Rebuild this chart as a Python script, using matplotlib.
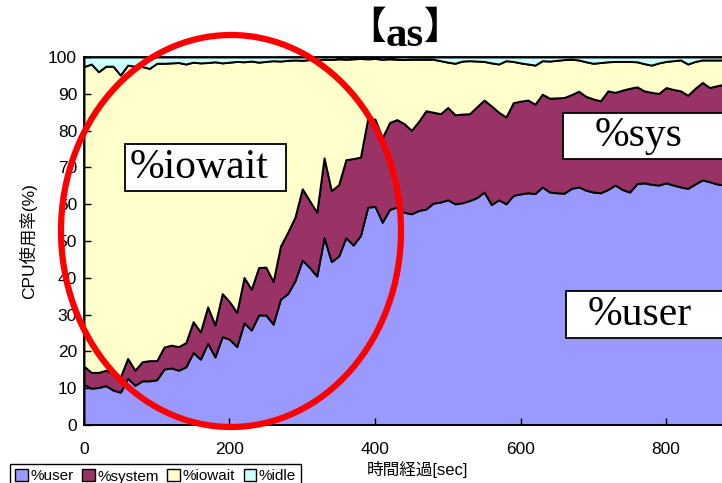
import matplotlib
matplotlib.use('Agg')
import matplotlib.pyplot as plt
from matplotlib.patches import Ellipse, Rectangle, Patch

plt.rcParams['font.family'] = ['Liberation Sans', 'Noto Sans CJK JP']

W, H = 722, 483

# time axis [sec]
t = list(range(0, 890, 10))

user = [11.0, 10.0, 10.2, 10.7, 9.5, 8.9, 12.7, 10.8, 12.0, 12.0,
        12.3, 15.2, 15.5, 14.9, 15.8, 19.7, 17.9, 22.2, 18.5, 24.0,
        23.3, 21.3, 27.8, 25.8, 29.9, 29.9, 27.4, 34.2, 35.7, 39.2,
        44.8, 42.8, 40.5, 50.9, 44.4, 45.9, 50.9, 48.9, 51.5, 59.2,
        59.4, 55.1, 58.6, 59.2, 57.8, 57.4, 58.3, 58.7, 60.3, 60.6,
        61.2, 60.1, 60.4, 61.0, 61.8, 63.3, 59.9, 61.2, 60.1, 62.4,
        62.8, 63.1, 62.9, 64.7, 63.3, 63.1, 63.0, 64.3, 64.7, 63.8,
        63.3, 63.1, 64.0, 65.2, 64.0, 63.3, 65.6, 65.8, 65.4, 65.2,
        65.8, 65.2, 64.7, 64.3, 65.5, 66.6, 66.1, 65.5, 65.2]

system = [5.0, 4.3, 4.1, 4.2, 4.5, 4.2, 5.4, 4.1, 5.2, 5.5,
          5.2, 6.0, 6.2, 6.4, 6.6, 8.4, 7.4, 9.9, 8.7, 11.7,
          10.2, 9.3, 12.3, 11.1, 12.9, 13.0, 11.6, 14.4, 16.7, 17.3,
          19.4, 18.2, 17.3, 21.7, 19.3, 19.4, 21.2, 23.5, 21.3, 24.1,
          23.7, 23.0, 23.6, 23.8, 24.1, 22.7, 24.2, 26.7, 24.7, 24.0,
          25.1, 24.2, 24.1, 23.6, 24.7, 25.0, 26.8, 23.8, 23.6, 25.2,
          25.2, 25.2, 24.3, 25.2, 25.5, 25.8, 26.0, 25.5, 26.0, 25.5,
          25.3, 25.0, 26.8, 25.2, 27.0, 28.2, 26.3, 25.0, 25.0, 24.9,
          25.9, 26.0, 26.1, 25.3, 26.0, 26.5, 25.6, 26.7, 27.4]

iowait = [81.4, 83.8, 81.7, 82.6, 83.5, 82.0, 79.7, 82.6, 80.2, 79.4,
          80.8, 77.1, 76.7, 77.2, 75.7, 70.5, 73.1, 66.4, 71.5, 62.7,
          65.1, 68.2, 58.6, 62.0, 55.8, 55.9, 60.0, 50.3, 46.7, 42.7,
          34.9, 38.3, 41.4, 26.8, 35.6, 34.2, 27.3, 27.1, 26.8, 16.2,
          16.5, 21.3, 17.3, 16.4, 17.4, 19.3, 16.9, 14.0, 14.4, 14.4,
          12.3, 14.0, 14.4, 14.4, 12.4, 10.5, 11.7, 13.1, 15.3, 11.2,
          10.4, 9.8, 10.6, 9.1, 10.1, 10.2, 10.3, 9.6, 8.5, 9.4,
          9.7, 10.4, 7.9, 8.4, 7.8, 7.3, 6.8, 7.4, 7.4, 8.3,
          7.1, 7.8, 8.4, 8.5, 7.3, 6.1, 7.5, 7.0, 6.6]

idle = [2.6, 1.9, 4.0, 2.5, 2.5, 4.9, 2.2, 2.5, 2.6, 3.1,
        1.7, 1.7, 1.6, 1.5, 1.9, 1.4, 1.6, 1.5, 1.3, 1.6,
        1.4, 1.2, 1.3, 1.1, 1.4, 1.2, 1.0, 1.1, 0.9, 0.8,
        0.9, 0.7, 0.8, 0.6, 0.7, 0.5, 0.6, 0.5, 0.4, 0.5,
        0.4, 0.6, 0.5, 0.6, 0.7, 0.6, 0.6, 0.6, 0.6, 1.0,
        1.4, 1.7, 1.1, 1.0, 1.1, 1.2, 1.6, 1.9, 1.0, 1.2,
        1.6, 1.9, 2.2, 1.0, 1.1, 0.9, 0.7, 0.6, 0.8, 1.3,
        1.7, 1.5, 1.3, 1.2, 1.2, 1.2, 1.3, 1.8, 2.2, 1.6,
        1.2, 1.0, 0.8, 1.9, 1.2, 0.8, 0.8, 0.8, 0.8]

labels = ['%user', '%system', '%iowait', '%idle']
colors = ['#9999FF', '#993366', '#FFFFCC', '#CCFFFF']


def fx(x):
    return x / W


def fy(y):
    return 1 - y / H


fig = plt.figure(figsize=(W / 100, H / 100), dpi=100)
# plot area is wider than the picture, the right side is cut off
ax = fig.add_axes([fx(84), fy(425), 880 * 0.7275 / W, (425 - 57) / H])
ax.stackplot(t, user, system, iowait, idle, colors=colors,
             edgecolor='black', linewidth=1.4)
ax.set_xlim(0, 880)
ax.set_ylim(0, 100)
ax.set_xticks([0, 200, 400, 600, 800])
ax.set_yticks(range(0, 101, 10))
ax.tick_params(direction='in', length=5, width=1, labelsize=12.5)
ax.tick_params(axis='x', pad=12)
ax.tick_params(axis='y', pad=5)
for s in ax.spines.values():
    s.set_linewidth(1.3)

fig.text(fx(417), fy(470), '時間経過[sec]', ha='center', va='center', fontsize=12)
fig.text(fx(28), fy(241), 'CPU使用率(%)', ha='center', va='center',
         rotation=90, fontsize=12.5)

# title: 【as】
fig.text(fx(405), fy(46), 'as', ha='center', va='baseline', fontsize=31,
         fontweight='bold', family='Liberation Serif')
fig.text(fx(386), fy(27), '【', ha='right', va='center', fontsize=27,
         fontweight='bold', family='Noto Sans CJK JP')
fig.text(fx(424), fy(27), '】', ha='left', va='center', fontsize=27,
         fontweight='bold', family='Noto Sans CJK JP')

# callout boxes
boxes = [(125, 144, 161, 47, 130, '%iowait'),
         (563, 113, 170, 46, 595, '%sys'),
         (566, 291, 170, 47, 588, '%user')]
for bx, by, bw, bh, tx, txt in boxes:
    fig.patches.append(Rectangle((fx(bx), fy(by + bh)), bw / W, bh / H,
                                 transform=fig.transFigure, facecolor='white',
                                 edgecolor='black', linewidth=1.3, zorder=5))
    fig.text(fx(tx), fy(by + bh / 2), txt, ha='left', va='center',
             fontsize=30, family='Liberation Serif', zorder=6)

fig.patches.append(Ellipse((fx(231), fy(231)), 340 / W, 392 / H,
                           transform=fig.transFigure, fill=False,
                           edgecolor='#FF0000', linewidth=4.5, zorder=7))

handles = [Patch(facecolor=c, edgecolor='black', linewidth=1) for c in colors]
fig.legend(handles, labels, loc='upper left',
           bbox_to_anchor=(fx(10), fy(464)), ncol=4, fontsize=11,
           frameon=True, fancybox=False, edgecolor='black', framealpha=1,
           handlelength=0.8, handleheight=0.8, handletextpad=0.2,
           columnspacing=0.55, borderpad=0.35, borderaxespad=0)

fig.savefig('out.png', dpi=100)
